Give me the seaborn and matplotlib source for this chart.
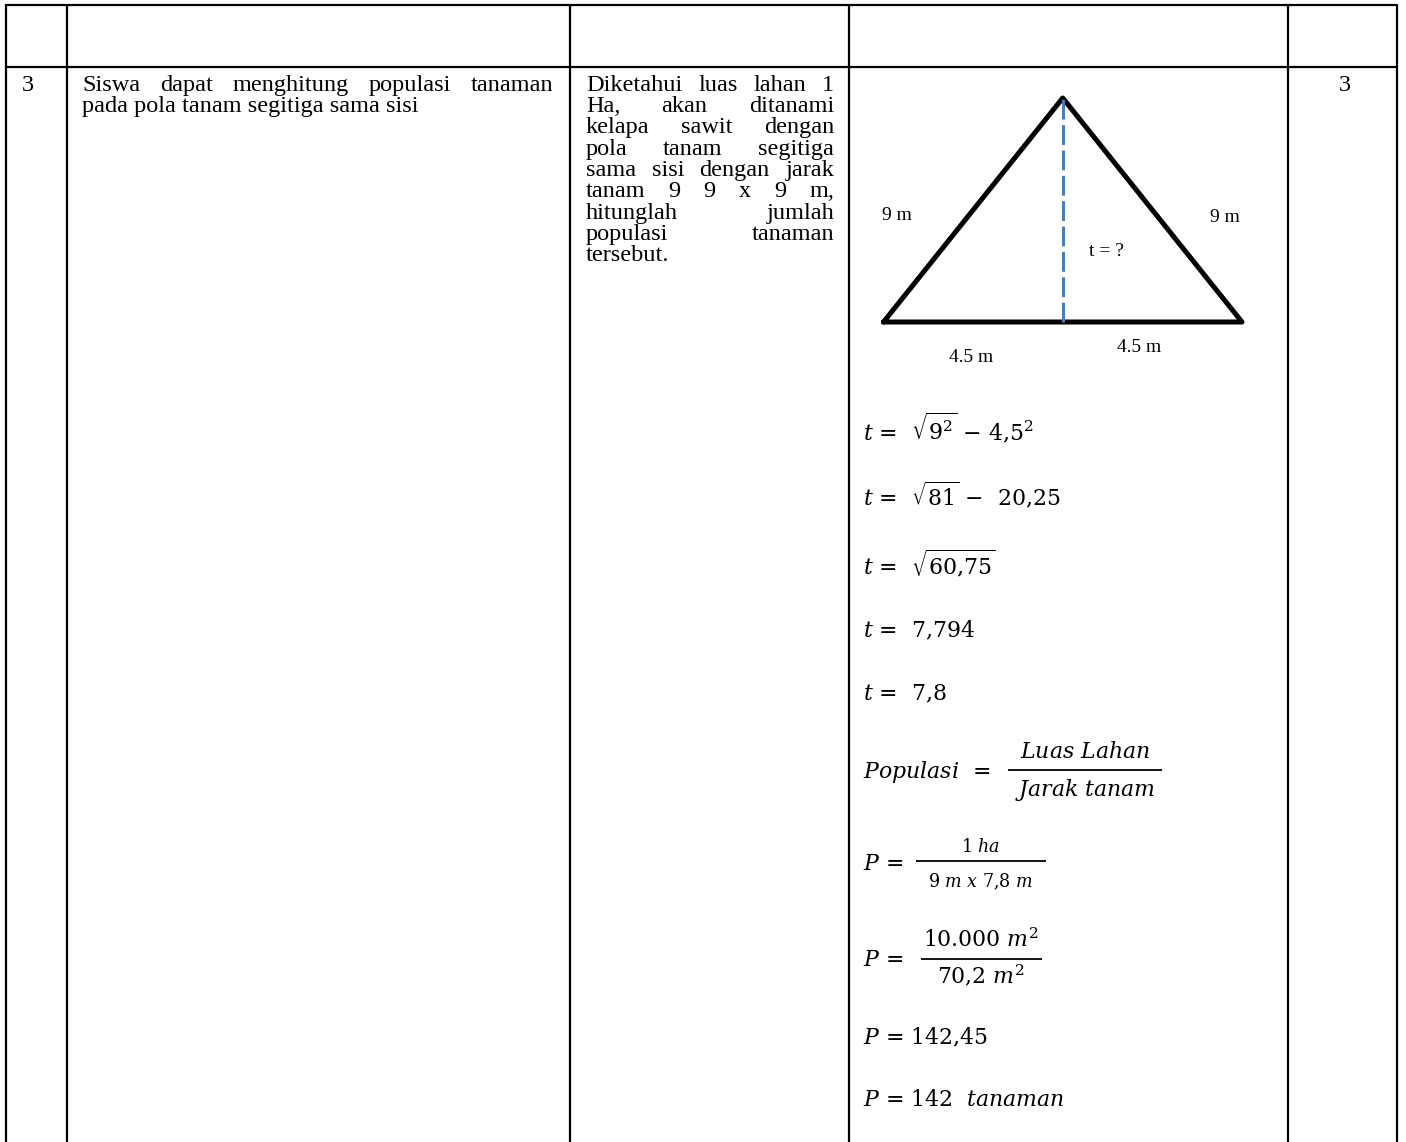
import matplotlib
matplotlib.use("Agg")
import matplotlib.pyplot as plt
import pandas as pd
import seaborn as sns

sns.set_style("white")
plt.rcParams['font.family'] = ['Liberation Serif', 'DejaVu Serif']
plt.rcParams['mathtext.fontset'] = 'dejavuserif'
plt.rcParams['text.color'] = 'black'

# isi tabel
nomor = "3"
indikator = ["Siswa dapat menghitung populasi tanaman",
             "pada pola tanam segitiga sama sisi"]
soal = ["Diketahui luas lahan 1", "Ha, akan ditanami", "kelapa sawit dengan",
        "pola tanam segitiga", "sama sisi dengan jarak", "tanam 9 9 x 9 m,",
        "hitunglah jumlah", "populasi tanaman", "tersebut."]
skor = "3"

# segitiga sama kaki (dalam meter)
sisi_miring = 9.0
setengah_alas = 4.5
tinggi = (sisi_miring ** 2 - setengah_alas ** 2) ** 0.5
segitiga_x = [-setengah_alas, setengah_alas, 0.0, -setengah_alas]
segitiga_y = [0.0, 0.0, tinggi, 0.0]
label_segitiga = ["9 m", "9 m", "t = ?", "4.5 m", "4.5 m"]

# langkah penyelesaian
langkah_t = [r"$t$ =  $\sqrt{9^2}$ − 4,5$^2$",
             r"$t$ =  $\sqrt{81}$ −  20,25",
             r"$t$ =  $\sqrt{60{,}75}$",
             r"$t$ =  7,794",
             r"$t$ =  7,8"]
pecahan_kiri = [r"$Populasi$  =", r"$P$ =", r"$P$ ="]
pecahan_atas = [r"$Luas\ Lahan$", r"1 $ha$", r"10.000 $m^2$"]
pecahan_bawah = [r"$Jarak\ tanam$", r"9 $m$ $x$ 7,8 $m$", r"70,2 $m^2$"]
hasil = [r"$P$ = 142,45", r"$P$ = 142  $tanaman$"]

W, H = 1406, 1142
fig = plt.figure(figsize=(W / 100, H / 100), dpi=100)
ax = fig.add_axes([0, 0, 1, 1])
ax.set_xlim(0, W)
ax.set_ylim(H, 0)
ax.axis('off')
renderer = fig.canvas.get_renderer()

FS = 17.5      # teks isi
FM = 15.8      # persamaan

# garis tabel
kolom = [6, 67, 570, 849, 1288, 1397]
ax.vlines(kolom, 4, H + 5, color='black', lw=1.6)
ax.hlines([5, 67], kolom[0], kolom[-1], color='black', lw=1.6)


def rata_kanan_kiri(baris, x0, x1, y):
    kata = baris.split()
    objek = [ax.text(x0, y, k, fontsize=FS, va='baseline') for k in kata]
    lebar = [o.get_window_extent(renderer).width for o in objek]
    if len(kata) == 1:
        return
    celah = (x1 - x0 - sum(lebar)) / (len(kata) - 1)
    x = x0
    for o, w in zip(objek, lebar):
        o.set_x(x)
        x += w + celah


baris_y = [90.7 + 21.3 * i for i in range(len(soal))]

ax.text(22, baris_y[0], nomor, fontsize=FS, va='baseline')
rata_kanan_kiri(indikator[0], 82, 553, baris_y[0])
ax.text(82, baris_y[1], indikator[1], fontsize=FS, va='baseline')
for i, b in enumerate(soal):
    if i < len(soal) - 1:
        rata_kanan_kiri(b, 586, 834, baris_y[i])
    else:
        ax.text(586, baris_y[i], b, fontsize=FS, va='baseline')
ax.text(1345, baris_y[0], skor, fontsize=FS, va='baseline', ha='center')

# gambar segitiga
tax = fig.add_axes([883.5 / W, 1 - 322 / H, 358.5 / W, 224 / H])
tax.set_facecolor('none')
df_seg = pd.DataFrame({'x': segitiga_x, 'y': segitiga_y})
sns.lineplot(data=df_seg, x='x', y='y', sort=False, estimator=None,
             color='black', lw=3.6, solid_joinstyle='round',
             solid_capstyle='round', ax=tax, legend=False)
df_t = pd.DataFrame({'x': [0.0, 0.0], 'y': [0.0, tinggi]})
sns.lineplot(data=df_t, x='x', y='y', sort=False, estimator=None,
             color='#4A7EBB', lw=2.2, linestyle=(0, (6.5, 1.8)),
             ax=tax, legend=False)
for ln in tax.lines:
    ln.set_clip_on(False)
tax.set_xlim(-setengah_alas, setengah_alas)
tax.set_ylim(0, tinggi)
tax.axis('off')

pos_label = [(897, 216), (1225, 218), (1106, 252), (971, 357), (1139, 347)]
for lb, (x, y) in zip(label_segitiga, pos_label):
    ax.text(x, y, lb, fontsize=14, ha='center', va='center')

# persamaan
t_y = [440, 505.7, 574, 637.5, 700]
for s, y in zip(langkah_t, t_y):
    ax.text(863, y, s, fontsize=FM, family='DejaVu Serif', va='baseline')

kiri_y = [778, 870, 966]
garis_y = [770, 861, 958.7]
garis_x = [(1008, 1162), (916, 1046), (921, 1042)]
atas_y = [758, 852, 946.7]
bawah_y = [796, 887, 983]
skala = [1.0, 0.8, 1.0]
for i in range(3):
    ax.text(863, kiri_y[i], pecahan_kiri[i], fontsize=FM,
            family='DejaVu Serif', va='baseline')
    ax.hlines(garis_y[i], garis_x[i][0], garis_x[i][1], color='black', lw=1.3)
    xc = (garis_x[i][0] + garis_x[i][1]) / 2
    ax.text(xc, atas_y[i], pecahan_atas[i], fontsize=FM * skala[i],
            family='DejaVu Serif', va='baseline', ha='center')
    ax.text(xc, bawah_y[i], pecahan_bawah[i], fontsize=FM * skala[i],
            family='DejaVu Serif', va='baseline', ha='center')

for s, y in zip(hasil, [1044, 1105.7]):
    ax.text(863, y, s, fontsize=FM, family='DejaVu Serif', va='baseline')

fig.savefig('out.png', dpi=100)
